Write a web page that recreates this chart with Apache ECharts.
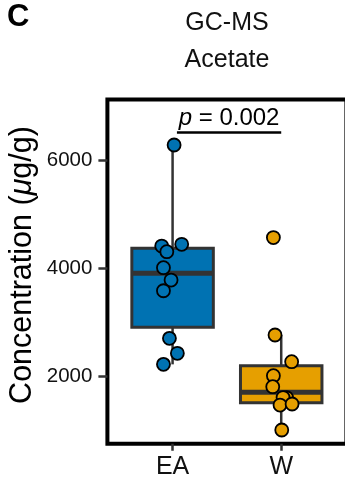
<!DOCTYPE html>
<html>
<head>
<meta charset="utf-8">
<script src="https://cdn.jsdelivr.net/npm/echarts@6/dist/echarts.min.js"></script>
<style>
  html, body { margin: 0; padding: 0; background: #ffffff; }
  #chart { width: 345px; height: 480px; }
</style>
</head>
<body>
<div id="chart"></div>
<script>
// Acetate concentration (GC-MS), two groups
const groups = ['EA', 'W'];
const groupColors = ['#0072B2', '#E69F00'];

// Box summaries: [lower whisker, Q1, median, Q3, upper whisker]
const boxEA = [2229, 2914, 3913, 4376, 6287];
const boxW = [1014, 1519, 1711, 2204, 2772];

// Individual samples and their horizontal spread within each group
const valuesEA = [6287, 4418, 4450, 4313, 4017, 3789, 3591, 2710, 2433, 2229];
const spreadEA = [0.014, -0.10, 0.084, -0.053, -0.084, -0.014, -0.084, -0.029, 0.044, -0.084];
const valuesW = [4575, 2772, 2278, 2019, 1815, 1611, 1615, 1476, 1495, 1014];
const spreadW = [-0.072, -0.057, 0.096, -0.072, -0.078, 0.05, 0.017, -0.011, 0.10, 0.005];

const yTicks = [2000, 4000, 6000];
const yRange = [759, 7129];
const pValue = '0.002';

const FONT = "'Liberation Sans', Arial, Helvetica, sans-serif";
const EDGE = '#333333';

const chart = echarts.init(document.getElementById('chart'), null, { renderer: 'canvas' });

const boxData = [[1].concat(boxEA), [2].concat(boxW)];
const pointSeries = [[valuesEA, spreadEA], [valuesW, spreadW]].map(([vals, spread], g) => ({
  type: 'scatter',
  z: 5,
  symbol: 'circle',
  symbolSize: 13,
  itemStyle: { color: groupColors[g], borderColor: '#000000', borderWidth: 1.8, opacity: 1 },
  data: vals.map((v, i) => [g + 1 + spread[i], v]),
  silent: true
}));

const option = {
  animation: false,
  grid: {
    left: 107.4, right: -1.4, top: 99.5, bottom: 36.2,
    show: true, borderColor: '#000000', borderWidth: 4, backgroundColor: 'transparent',
    outerBoundsMode: 'none'
  },
  xAxis: {
    type: 'value', min: 0.4, max: 2.6,
    splitLine: { show: false },
    axisLine: { show: false },
    axisTick: { show: true, customValues: [1, 2], length: 7, lineStyle: { color: EDGE, width: 2.5 } },
    axisLabel: {
      customValues: [1, 2],
      formatter: v => groups[Math.round(v) - 1],
      margin: 23, verticalAlign: 'middle',
      color: '#111111', fontSize: 25, fontFamily: FONT
    }
  },
  yAxis: {
    type: 'value', min: yRange[0], max: yRange[1],
    splitLine: { show: false },
    axisLine: { show: false },
    axisTick: { show: true, customValues: yTicks, length: 9, lineStyle: { color: EDGE, width: 2.5 } },
    axisLabel: {
      customValues: yTicks, margin: 15,
      formatter: v => String(Math.round(v)),
      color: '#111111', fontSize: 20.5, fontFamily: FONT
    }
  },
  graphic: [
    { type: 'text', x: 7, y: 17, style: { text: 'C', font: "bold 31px " + FONT, fill: '#000', verticalAlign: 'middle' } },
    { type: 'text', x: 227, y: 23.5, style: { text: 'GC-MS', font: "25px " + FONT, fill: '#111', align: 'center', verticalAlign: 'middle' } },
    { type: 'text', x: 227, y: 60, style: { text: 'Acetate', font: "25px " + FONT, fill: '#111', align: 'center', verticalAlign: 'middle' } },
    {
      type: 'text', x: 23, y: 265, rotation: Math.PI / 2,
      style: {
        text: '{a|Concentration (}{i|μ}{a|g/g)}',
        align: 'center', verticalAlign: 'middle',
        rich: {
          a: { font: "30.5px " + FONT, fill: '#000' },
          i: { font: "italic 30.5px " + FONT, fill: '#000' }
        }
      }
    }
  ],
  series: [
    {
      type: 'custom',
      z: 2,
      silent: true,
      data: boxData,
      encode: { x: 0, y: [1, 2, 3, 4, 5] },
      renderItem(params, api) {
        const g = api.value(0);
        const lo = api.value(1), q1 = api.value(2), med = api.value(3), q3 = api.value(4), hi = api.value(5);
        const hw = 0.375;
        const cx = api.coord([g, med])[0];
        const xl = api.coord([g - hw, med])[0];
        const xr = api.coord([g + hw, med])[0];
        const yLo = api.coord([g, lo])[1], yQ1 = api.coord([g, q1])[1];
        const yMed = api.coord([g, med])[1], yQ3 = api.coord([g, q3])[1], yHi = api.coord([g, hi])[1];
        const color = groupColors[params.dataIndex];
        return {
          type: 'group',
          children: [
            { type: 'line', shape: { x1: cx, y1: yQ3, x2: cx, y2: yHi }, style: { stroke: EDGE, lineWidth: 2.5 } },
            { type: 'line', shape: { x1: cx, y1: yQ1, x2: cx, y2: yLo }, style: { stroke: EDGE, lineWidth: 2.5 } },
            { type: 'rect', shape: { x: xl, y: yQ3, width: xr - xl, height: yQ1 - yQ3 }, style: { fill: color, stroke: EDGE, lineWidth: 3 } },
            { type: 'line', shape: { x1: xl, y1: yMed, x2: xr, y2: yMed }, style: { stroke: EDGE, lineWidth: 5 } }
          ]
        };
      }
    },
    {
      // significance bracket between the two groups
      type: 'custom',
      z: 3,
      silent: true,
      data: [[1.04, 2.0, 6518]],
      encode: { x: [0, 1], y: 2 },
      renderItem(params, api) {
        const p1 = api.coord([api.value(0), api.value(2)]);
        const p2 = api.coord([api.value(1), api.value(2)]);
        return {
          type: 'group',
          children: [
            { type: 'line', shape: { x1: p1[0], y1: p1[1], x2: p2[0], y2: p2[1] }, style: { stroke: '#000', lineWidth: 2.5 } },
            {
              type: 'text',
              x: (p1[0] + p2[0]) / 2, y: p1[1] - 14,
              style: {
                text: '{i|p}{a| = ' + pValue + '}',
                align: 'center', verticalAlign: 'middle',
                rich: {
                  i: { font: "italic 24px " + FONT, fill: '#000' },
                  a: { font: "24px " + FONT, fill: '#000' }
                }
              }
            }
          ]
        };
      }
    }
  ].concat(pointSeries)
};

chart.setOption(option);
</script>
</body>
</html>
